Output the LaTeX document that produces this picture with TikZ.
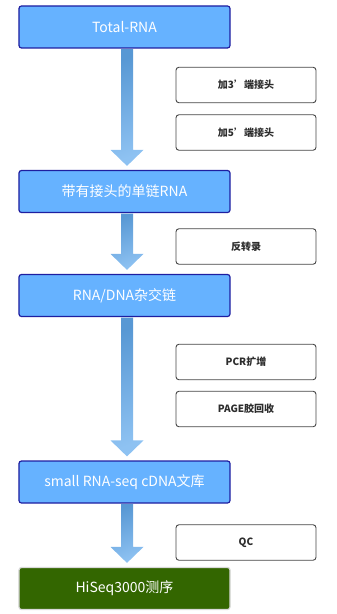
\documentclass[tikz,border=0pt]{standalone}
\usepackage{fontspec}
\setmainfont{Noto Sans CJK SC}
\usetikzlibrary{calc,positioning}
\definecolor{stagefill}{RGB}{102,178,255}
\definecolor{stageline}{RGB}{30,30,160}
\definecolor{seqgreen}{RGB}{51,102,0}
\definecolor{noteline}{RGB}{70,70,70}
\definecolor{notetext}{RGB}{45,45,45}
\definecolor{flowdark}{RGB}{88,152,212}
\definecolor{flowlight}{RGB}{142,194,242}
\tikzset{
  stage/.style={draw=stageline,line width=1.2bp,fill=stagefill,rounded corners=2.5bp,
    minimum width=211bp,minimum height=42bp,inner sep=0pt,text=white,
    font=\fontsize{14bp}{16bp}\selectfont},
  seqstage/.style={stage,draw=black!15,fill=seqgreen},
  note/.style={draw=noteline,line width=0.9bp,fill=white,rounded corners=3bp,
    minimum width=140bp,minimum height=35.5bp,inner sep=0pt,text=notetext,
    font=\fontsize{10bp}{12bp}\selectfont\bfseries},
  flow/.style={top color=flowdark,bottom color=flowlight,shading angle=20},
}
% fat arrow from one stage to the next
\newcommand{\flowarrow}[2]{%
  \path[flow] let \p1=(#1.south), \p2=(#2.north) in
    (\x1-3.5bp,\y1-0.6bp) -- (\x1+8.5bp,\y1-0.6bp) -- (\x1+8.5bp,\y2+20bp)
    -- (\x1+19bp,\y2+20bp) -- (\x1+2.5bp,\y2+4bp) -- (\x1-14bp,\y2+20bp)
    -- (\x1-3.5bp,\y2+20bp) -- cycle;}
\begin{document}
\begin{tikzpicture}[x=1bp,y=-1bp]
  \useasboundingbox (0,0) rectangle (336,614);
  % main stages
  \node[stage] (total) at (124.5,27) {Total-RNA};
  \node[stage] (adapt) at (124.5,191.5) {带有接头的单链RNA};
  \node[stage] (hybrid) at (124.5,295.5) {RNA/DNA杂交链};
  \node[stage] (lib) at (124.5,482) {small RNA-seq cDNA文库};
  \node[seqstage] (seq) at (124.5,588.5) {HiSeq3000测序};
  % steps on the right
  \node[note] (lig3) at (246,85) {加3’端接头};
  \node[note] (lig5) at (246,132.5) {加5’端接头};
  \node[note] (rt) at (246,246.5) {反转录};
  \node[note] (pcr) at (246,362) {PCR扩增};
  \node[note] (page) at (246,409) {PAGE胶回收};
  \node[note] (qc) at (246,542.5) {QC};
  % arrows between stages
  \flowarrow{total}{adapt}
  \flowarrow{adapt}{hybrid}
  \flowarrow{hybrid}{lib}
  \flowarrow{lib}{seq}
\end{tikzpicture}
\end{document}
